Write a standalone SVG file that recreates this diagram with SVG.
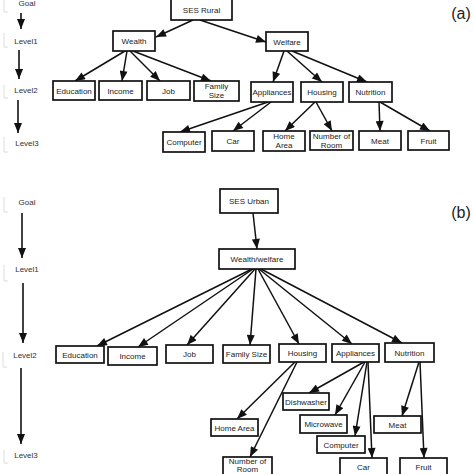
<svg xmlns="http://www.w3.org/2000/svg" width="474" height="474" viewBox="0 0 474 474">
<defs>
<style>
.box rect{fill:#fff;stroke:#111;stroke-width:1.7}
.t{font-family:"Liberation Sans",Arial,sans-serif;font-size:8px;fill:#222;text-anchor:middle}
.lv{font-family:"Liberation Sans",Arial,sans-serif;font-size:8px;fill:#333;text-anchor:middle}
.cn line{stroke:#111;stroke-width:1.5;marker-end:url(#ah)}
.lvl line{stroke:#111;stroke-width:1.6;marker-end:url(#ahl)}
.br{fill:none;stroke:#dcdcdc;stroke-width:1}
</style>
<marker id="ah" viewBox="0 0 10 8" refX="10" refY="4" markerWidth="11" markerHeight="8" markerUnits="userSpaceOnUse" orient="auto"><path d="M0,0 L10,4 L0,8 z" fill="#111"/></marker>
<marker id="ahl" viewBox="0 0 10 8" refX="10" refY="4" markerWidth="13" markerHeight="8" markerUnits="userSpaceOnUse" orient="auto"><path d="M0,0 L10,4 L0,8 z" fill="#111"/></marker>
</defs>
<rect width="474" height="474" fill="#fff"/>

<!-- level labels (a) -->
<g id="levels-a">
<path class="br" d="M4,0 V12 H8 M4,33 V47 H8 M4,85 V98 H8 M4,137 V152 H8"/>
<text class="lv" x="27" y="6">Goal</text>
<text class="lv" x="26" y="44">Level1</text>
<text class="lv" x="26" y="93">Level2</text>
<text class="lv" x="27" y="146">Level3</text>
<g class="lvl">
<line x1="21" y1="13" x2="21" y2="29"/>
<line x1="19" y1="50" x2="19" y2="79"/>
<line x1="18" y1="100" x2="18" y2="133"/>
</g>
<text x="461" y="19" font-family="Liberation Sans,Arial,sans-serif" font-size="16" fill="#222" text-anchor="middle">(a)</text>
</g>

<!-- level labels (b) -->
<g id="levels-b">
<path class="br" d="M4,197 V212 H8 M4,265 V281 H8 M3,352 V367 H7 M4,450 V463 H8"/>
<text class="lv" x="27" y="205">Goal</text>
<text class="lv" x="27" y="272" font-size="8.5">Level1</text>
<text class="lv" x="25" y="358">Level2</text>
<text class="lv" x="26" y="458">Level3</text>
<g class="lvl">
<line x1="22" y1="213" x2="22" y2="258"/>
<line x1="23" y1="283" x2="23" y2="343"/>
<line x1="21" y1="368" x2="21" y2="444"/>
</g>
<text x="461" y="218" font-family="Liberation Sans,Arial,sans-serif" font-size="16" fill="#222" text-anchor="middle">(b)</text>
</g>

<!-- connectors -->
<g id="connectors" class="cn">
<!-- (a) -->
<line x1="193" y1="20" x2="156" y2="37"/>
<line x1="200" y1="20" x2="266" y2="42"/>
<line x1="125" y1="51" x2="75" y2="81"/>
<line x1="127" y1="51" x2="122" y2="81"/>
<line x1="130" y1="51" x2="160" y2="81"/>
<line x1="133" y1="51" x2="211" y2="81"/>
<line x1="284" y1="51" x2="273" y2="82"/>
<line x1="287" y1="51" x2="322" y2="82"/>
<line x1="292" y1="51" x2="367" y2="82"/>
<line x1="268" y1="102" x2="180" y2="132"/>
<line x1="271" y1="102" x2="233" y2="131"/>
<line x1="315" y1="102" x2="285" y2="131"/>
<line x1="316" y1="102" x2="332" y2="131"/>
<line x1="379" y1="102" x2="380" y2="131"/>
<line x1="380" y1="102" x2="430" y2="131"/>
<!-- (b) -->
<line x1="253" y1="213" x2="257" y2="249"/>
<line x1="252" y1="269" x2="97" y2="346"/>
<line x1="253" y1="269" x2="138" y2="347"/>
<line x1="255" y1="269" x2="187" y2="345"/>
<line x1="256" y1="269" x2="250" y2="345"/>
<line x1="258" y1="269" x2="299" y2="344"/>
<line x1="259" y1="269" x2="352" y2="344"/>
<line x1="261" y1="269" x2="402" y2="343"/>
<line x1="295" y1="362" x2="237" y2="419"/>
<line x1="297" y1="362" x2="250" y2="457"/>
<line x1="364" y1="362" x2="309" y2="393"/>
<line x1="365" y1="362" x2="335" y2="415"/>
<line x1="367" y1="362" x2="355" y2="436"/>
<line x1="368" y1="362" x2="372" y2="458"/>
<line x1="419" y1="362" x2="402" y2="416"/>
<line x1="420" y1="362" x2="424" y2="458"/>
</g>

<!-- (a) nodes -->
<g id="ses-rural" class="box"><rect x="171" y="-2" width="61" height="22"/><text class="t" x="201.5" y="13" font-size="8.5">SES Rural</text></g>
<g id="wealth" class="box"><rect x="113" y="31" width="42" height="20"/><text class="t" x="134" y="44">Wealth</text></g>
<g id="welfare" class="box"><rect x="266" y="32" width="42" height="19"/><text class="t" x="287" y="44.5">Welfare</text></g>
<g id="a-education" class="box"><rect x="53" y="81" width="42" height="19"/><text class="t" x="74" y="93.5">Education</text></g>
<g id="a-income" class="box"><rect x="99" y="81" width="43" height="19"/><text class="t" x="120.5" y="93.5">Income</text></g>
<g id="a-job" class="box"><rect x="147" y="81" width="43" height="19"/><text class="t" x="168.5" y="93.5">Job</text></g>
<g id="a-family-size" class="box"><rect x="194" y="81" width="45" height="20"/><text class="t" x="216.5" y="89">Family</text><text class="t" x="216.5" y="98">Size</text></g>
<g id="a-appliances" class="box"><rect x="251" y="82" width="42" height="20"/><text class="t" x="272" y="95">Appliances</text></g>
<g id="a-housing" class="box"><rect x="301" y="82" width="42" height="20"/><text class="t" x="322" y="95">Housing</text></g>
<g id="a-nutrition" class="box"><rect x="349" y="82" width="43" height="20"/><text class="t" x="370.5" y="95">Nutrition</text></g>
<g id="a-computer" class="box"><rect x="163" y="132" width="42" height="20"/><text class="t" x="184" y="145">Computer</text></g>
<g id="a-car" class="box"><rect x="212" y="131" width="42" height="20"/><text class="t" x="233" y="144">Car</text></g>
<g id="a-home-area" class="box"><rect x="263" y="131" width="42" height="20"/><text class="t" x="284" y="139">Home</text><text class="t" x="284" y="148">Area</text></g>
<g id="a-number-of-room" class="box"><rect x="310" y="131" width="43" height="19"/><text class="t" x="331.5" y="139">Number of</text><text class="t" x="331.5" y="148">Room</text></g>
<g id="a-meat" class="box"><rect x="359" y="131" width="42" height="19"/><text class="t" x="380" y="143.5">Meat</text></g>
<g id="a-fruit" class="box"><rect x="408" y="131" width="41" height="19"/><text class="t" x="428.5" y="143.5">Fruit</text></g>

<!-- (b) nodes -->
<g id="ses-urban" class="box"><rect x="220" y="189" width="58" height="24"/><text class="t" x="249" y="204" font-size="9.5">SES Urban</text></g>
<g id="wealth-welfare" class="box"><rect x="219" y="249" width="76" height="20"/><text class="t" x="257" y="262" font-size="8.5">Wealth/welfare</text></g>
<g id="b-education" class="box"><rect x="56" y="346" width="48" height="17"/><text class="t" x="80" y="358" font-size="8.5">Education</text></g>
<g id="b-income" class="box"><rect x="108" y="347" width="49" height="18"/><text class="t" x="132.5" y="359" font-size="8.5">Income</text></g>
<g id="b-job" class="box"><rect x="166" y="345" width="47" height="18"/><text class="t" x="189.5" y="357" font-size="8.5">Job</text></g>
<g id="b-family-size" class="box"><rect x="223" y="345" width="47" height="18"/><text class="t" x="246.5" y="357" font-size="8.5">Family Size</text></g>
<g id="b-housing" class="box"><rect x="279" y="344" width="47" height="18"/><text class="t" x="302.5" y="356" font-size="8.5">Housing</text></g>
<g id="b-appliances" class="box"><rect x="332" y="344" width="47" height="18"/><text class="t" x="355.5" y="356" font-size="8.5">Appliances</text></g>
<g id="b-nutrition" class="box"><rect x="385" y="343" width="49" height="19"/><text class="t" x="409.5" y="356" font-size="8.5">Nutrition</text></g>
<g id="b-home-area" class="box"><rect x="211" y="419" width="47" height="17"/><text class="t" x="234.5" y="431">Home  Area</text></g>
<g id="b-number-of-room" class="box"><rect x="223" y="457" width="49" height="20"/><text class="t" x="247.5" y="463.5" font-size="7">Number of</text><text class="t" x="247.5" y="472" font-size="7">Room</text></g>
<g id="b-dishwasher" class="box"><rect x="283" y="393" width="46" height="17"/><text class="t" x="306" y="405">Dishwasher</text></g>
<g id="b-microwave" class="box"><rect x="300" y="415" width="47" height="18"/><text class="t" x="323.5" y="427">Microwave</text></g>
<g id="b-computer" class="box"><rect x="317" y="436" width="48" height="17"/><text class="t" x="341" y="448">Computer</text></g>
<g id="b-car" class="box"><rect x="340" y="458" width="47" height="20"/><text class="t" x="363.5" y="470">Car</text></g>
<g id="b-meat" class="box"><rect x="374" y="416" width="47" height="17"/><text class="t" x="397.5" y="428">Meat</text></g>
<g id="b-fruit" class="box"><rect x="400" y="458" width="47" height="20"/><text class="t" x="423.5" y="470">Fruit</text></g>
</svg>
